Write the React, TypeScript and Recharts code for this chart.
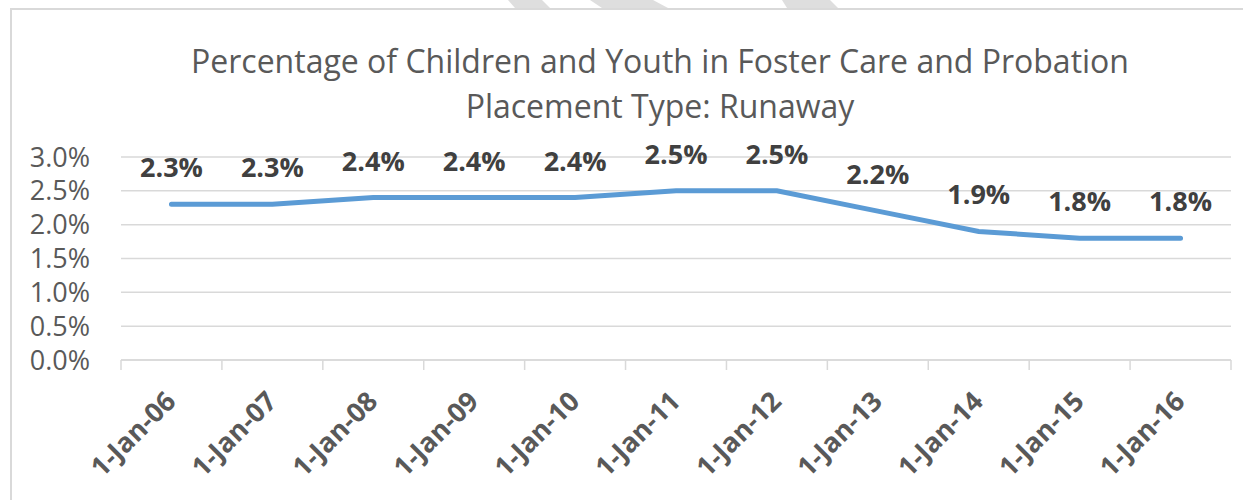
import React from 'react'
import { LineChart, Line, XAxis, YAxis, CartesianGrid, LabelList } from 'recharts'

const categories = [
  '1-Jan-06', '1-Jan-07', '1-Jan-08', '1-Jan-09', '1-Jan-10', '1-Jan-11',
  '1-Jan-12', '1-Jan-13', '1-Jan-14', '1-Jan-15', '1-Jan-16',
]
const runaway = [2.3, 2.3, 2.4, 2.4, 2.4, 2.5, 2.5, 2.2, 1.9, 1.8, 1.8]
const yTicks = [0, 0.5, 1, 1.5, 2, 2.5, 3]
const titleLines = [
  'Percentage of Children and Youth in Foster Care and Probation',
  'Placement Type: Runaway',
]

const data = categories.map((name, i) => ({ name, value: runaway[i] }))

const W = 1243
const H = 500
const LEFT = 121
const RIGHT = 12
const PLOT_W = W - LEFT - RIGHT
const HALF = PLOT_W / categories.length / 2
const GRAY = '#d9d9d9'
const FONT = '"Open Sans", sans-serif'

const XTick = (props: any) => {
  const { x, y, payload, index } = props
  const last = index === categories.length - 1
  return (
    <g>
      <line x1={x - HALF} y1={y} x2={x - HALF} y2={y + 10} stroke={GRAY} strokeWidth={1.5} />
      {last && <line x1={x + HALF} y1={y} x2={x + HALF} y2={y + 10} stroke={GRAY} strokeWidth={1.5} />}
      <text
        x={0}
        y={0}
        transform={`translate(${x + 6},${y + 43}) rotate(-45)`}
        textAnchor="end"
        fill="#595959"
        fontSize={27}
        fontWeight="bold"
        fontFamily={FONT}
      >
        {payload.value}
      </text>
    </g>
  )
}

const PointLabel = (props: any) => {
  const { x, y, value } = props
  return (
    <text x={x} y={y - 27} textAnchor="middle" fill="#404040" fontSize={27} fontWeight="bold" fontFamily={FONT}>
      {value.toFixed(1)}%
    </text>
  )
}

export default function App() {
  return (
    <div style={{ position: 'absolute', left: 0, top: 0, width: W, height: H, overflow: 'hidden', background: '#fff' }}>
      <svg width={W} height={10} style={{ position: 'absolute', left: 0, top: 0 }}>
        <polygon points="508,0 542,0 550,8 515,8" fill="#dedede" />
        <polygon points="590,0 653,0 668,8 602,8" fill="#dedede" />
        <polygon points="782,0 830,0 838,8 787,8" fill="#dedede" />
      </svg>
      <div
        style={{
          position: 'absolute', left: 10, top: 8, width: 1260, height: 520,
          borderLeft: `2px solid ${GRAY}`, borderTop: `2px solid ${GRAY}`,
        }}
      />
      <div
        style={{
          position: 'absolute', left: 110, top: 38, width: 1100, textAlign: 'center',
          fontFamily: FONT, fontSize: 32, lineHeight: '45px', color: '#595959',
        }}
      >
        {titleLines.map((t) => <div key={t}>{t}</div>)}
      </div>
      <div style={{ position: 'absolute', left: 0, top: 0 }}>
        <LineChart width={W} height={H} data={data} margin={{ top: 157, right: RIGHT, left: 0, bottom: 0 }}>
          <CartesianGrid vertical={false} stroke={GRAY} strokeWidth={1.5} />
          <XAxis
            dataKey="name"
            height={140}
            padding={{ left: HALF, right: HALF }}
            axisLine={{ stroke: GRAY, strokeWidth: 1.5 }}
            tickLine={false}
            tickSize={0}
            tickMargin={0}
            interval={0}
            tick={<XTick />}
          />
          <YAxis
            width={LEFT}
            domain={[0, 3]}
            ticks={yTicks}
            interval={0}
            tickFormatter={(v: number) => `${v.toFixed(1)}%`}
            axisLine={false}
            tickLine={false}
            tickSize={0}
            tickMargin={31}
            tick={{ fill: '#595959', fontSize: 27, fontFamily: FONT }}
          />
          <Line
            type="linear"
            dataKey="value"
            stroke="#5B9BD5"
            strokeWidth={5}
            strokeLinecap="round"
            dot={false}
            isAnimationActive={false}
          >
            <LabelList dataKey="value" content={<PointLabel />} />
          </Line>
        </LineChart>
      </div>
    </div>
  )
}
